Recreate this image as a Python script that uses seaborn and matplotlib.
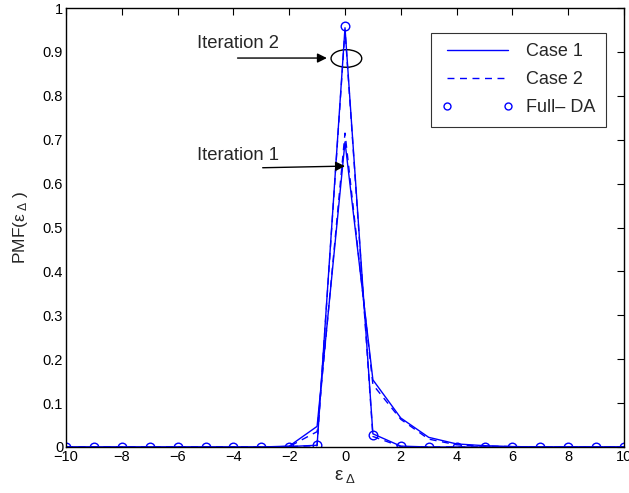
import matplotlib
matplotlib.use("Agg")
import matplotlib.pyplot as plt
from matplotlib.patches import Ellipse
import seaborn as sns
import numpy as np
import pandas as pd

# ---- data ----
x_vals = list(range(-10, 11))
case1_iter1 = [0, 0, 0, 0, 0, 0, 0, 0, 0.002, 0.047, 0.695, 0.153, 0.066, 0.022, 0.007, 0.003, 0.001, 0, 0, 0, 0]
case2_iter1 = [0, 0, 0, 0, 0, 0, 0, 0, 0.001, 0.035, 0.715, 0.142, 0.063, 0.018, 0.005, 0.002, 0.001, 0, 0, 0, 0]
case1_iter2 = [0, 0, 0, 0, 0, 0, 0, 0, 0.001, 0.004, 0.955, 0.030, 0.002, 0, 0, 0, 0, 0, 0, 0, 0]
case2_iter2 = [0, 0, 0, 0, 0, 0, 0, 0, 0.001, 0.003, 0.950, 0.024, 0.001, 0, 0, 0, 0, 0, 0, 0, 0]
full_da = [0, 0, 0, 0, 0, 0, 0, 0, 0.001, 0.004, 0.960, 0.028, 0.002, 0, 0, 0, 0, 0, 0, 0, 0]
xticks = [-10, -8, -6, -4, -2, 0, 2, 4, 6, 8, 10]
yticks = [0, 0.1, 0.2, 0.3, 0.4, 0.5, 0.6, 0.7, 0.8, 0.9, 1]
ytick_labels = ["0", "0.1", "0.2", "0.3", "0.4", "0.5", "0.6", "0.7", "0.8", "0.9", "1"]

sns.set_style("white")
plt.rcParams['font.family'] = ['Liberation Sans', 'DejaVu Sans']
plt.rcParams['mathtext.fontset'] = 'custom'
plt.rcParams['mathtext.rm'] = 'Liberation Sans'
plt.rcParams['mathtext.it'] = 'Liberation Sans'

fig = plt.figure(figsize=(6.29, 4.93), dpi=100)
ax = fig.add_axes([66/629, 1-447/493, (624-66)/629, (447-8)/493])

blue = (0, 0, 1)
sns.lineplot(x=x_vals, y=case1_iter1, ax=ax, color=blue, linewidth=1.0, label="Case 1")
sns.lineplot(x=x_vals, y=case1_iter2, ax=ax, color=blue, linewidth=1.0)
sns.lineplot(x=x_vals, y=case2_iter1, ax=ax, color=blue, linewidth=1.0, linestyle=(0, (5, 4)), label="Case 2")
sns.lineplot(x=x_vals, y=case2_iter2, ax=ax, color=blue, linewidth=1.0, linestyle=(0, (5, 4)))
sns.lineplot(x=x_vals, y=full_da, ax=ax, color=blue, linestyle='none', marker='o',
             markersize=6.2, markerfacecolor='none', markeredgecolor=blue, markeredgewidth=1.0,
             label="Full\u2013 DA")

ax.set_xlim(-10, 10)
ax.set_ylim(0, 1)
ax.set_xticks(xticks)
ax.set_xticklabels([str(t).replace('-', '\u2212') for t in xticks])
ax.set_yticks(yticks)
ax.set_yticklabels(ytick_labels)
ax.tick_params(direction='in', length=5, width=0.8, top=True, right=True,
               labelsize=10.5, colors='black', pad=2)
for s in ax.spines.values():
    s.set_visible(True)
    s.set_color('black')
    s.set_linewidth(1.0)

ax.set_xlabel(r"$\varepsilon_{\;\Delta}$", fontsize=13.5, labelpad=3)
ax.set_ylabel(r"PMF($\varepsilon_{\;\Delta}$ )", fontsize=12.5, labelpad=9)

# annotations
ax.add_patch(Ellipse((0.05, 0.885), 1.1, 0.04, fill=False, edgecolor='black', linewidth=1.0))
ax.annotate("", xy=(-0.55, 0.886), xytext=(-3.95, 0.886),
            arrowprops=dict(arrowstyle='-|>', color='black', lw=1.0, mutation_scale=14))
ax.text(-5.3, 0.918, "Iteration 2", fontsize=13.3, va='center', ha='left')
ax.annotate("", xy=(0.1, 0.64), xytext=(-3.05, 0.636),
            arrowprops=dict(arrowstyle='-|>', color='black', lw=1.0, mutation_scale=14))
ax.text(-5.3, 0.663, "Iteration 1", fontsize=13.3, va='center', ha='left')

leg = ax.legend(loc='upper right', bbox_to_anchor=(0.968, 0.943), numpoints=2,
                frameon=True, fancybox=False, edgecolor='black', fontsize=13,
                handlelength=4.0, borderpad=0.58, labelspacing=0.6, handletextpad=0.7,
                borderaxespad=0)
leg.get_frame().set_linewidth(0.8)
for h in leg.legend_handles:
    try:
        h.set_markersize(5)
    except Exception:
        pass

fig.savefig("out.png", dpi=100)
